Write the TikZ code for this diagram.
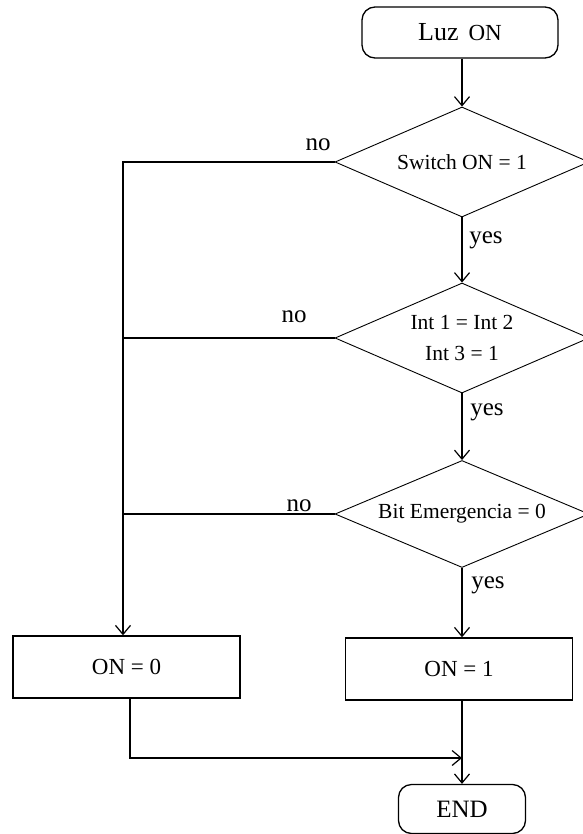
\documentclass[tikz,border=0pt]{standalone}
\usepackage{fontspec}
\setmainfont{Liberation Serif}
\usetikzlibrary{shapes.geometric,arrows.meta}

\begin{document}
\begin{tikzpicture}[x=1pt,y=-1pt,
    fleche/.style={-{Straight Barb[length=9pt,width=15pt]},line width=1.2pt},
    trait/.style={line width=1.2pt},
    debutfin/.style={draw,line width=1.3pt,rounded corners=13pt,minimum width=196pt,minimum height=51pt,inner sep=0pt},
    test/.style={draw,diamond,shape aspect=2.31,line width=0.9pt,minimum width=254pt,minimum height=110pt,inner sep=0pt,align=center,font=\fontsize{21.5}{31}\selectfont},
    action/.style={draw,rectangle,line width=1.4pt,minimum width=227pt,minimum height=62pt,font=\fontsize{23}{27}\selectfont},
    etiq/.style={font=\fontsize{25}{28}\selectfont,inner sep=0pt}]

% Cadre
\useasboundingbox (0,0) rectangle (582,834);

% Début et fin
\node[debutfin] (luz) at (460,32.5) {{\fontsize{26}{30}\selectfont Luz}\hspace{10pt}{\fontsize{23}{27}\selectfont ON}};
\node[debutfin,minimum width=127pt,minimum height=49pt,font=\fontsize{25}{28}\selectfont] (fin) at (462,809) {END};

% Tests
\node[test] (switch) at (462,162) {Switch ON = 1};
\node[test] (int) at (462,338) {Int 1 = Int 2\\Int 3 = 1};
\node[test,minimum height=107pt] (bit) at (462,514) {Bit Emergencia = 0};

% Actions
\node[action] (off) at (126.5,667) {ON = 0};
\node[action] (on) at (459,669) {ON = 1};

% Points de passage
\coordinate (descente) at ([xshift=-3.5pt]off.north);
\coordinate (jonction) at (462,758);

% Branche principale (yes)
\draw[fleche] (switch.north |- luz.south) -- (switch.north);
\draw[fleche] (switch.south) -- (int.north);
\draw[fleche] (int.south) -- (bit.north);
\draw[fleche] (bit.south) -- (bit.south |- on.north);
\draw[fleche] (fin.north |- on.south) -- (fin.north);

% Branches no
\draw[fleche] (switch.west) -| (descente);
\draw[trait] (int.west) -- (int.west -| descente);
\draw[trait] (bit.west) -- (bit.west -| descente);
\draw[fleche] ([xshift=3.5pt]off.south) |- (jonction);

% Etiquettes
\node[etiq] (non1) at (318,145) {no};
\node[etiq] (oui1) at (486,240) {yes};
\node[etiq] (non2) at (294,317) {no};
\node[etiq] (oui2) at (487,412) {yes};
\node[etiq] (non3) at (299,506) {no};
\node[etiq] (oui3) at (488,585) {yes};

\end{tikzpicture}
\end{document}
